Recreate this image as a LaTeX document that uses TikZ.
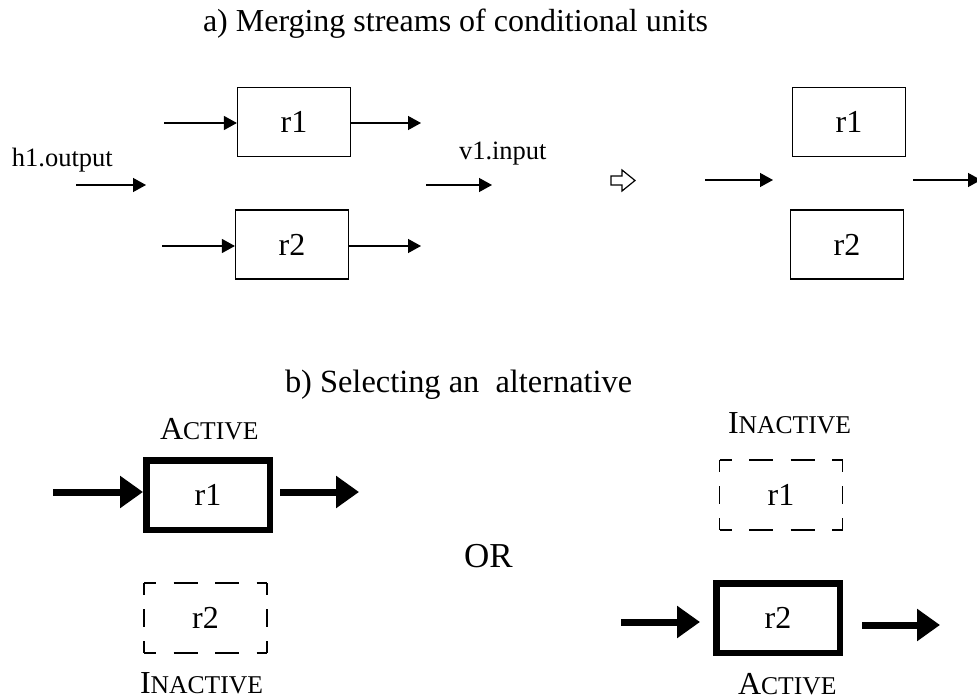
\documentclass[tikz,border=0pt]{standalone}
\usepackage{fontspec}
\setmainfont{Liberation Serif}
\usetikzlibrary{arrows.meta}

% first letter full size, rest as (fake) small capitals
\newcommand\scword[2]{{\fontsize{32}{38}\selectfont #1\fontsize{25.6}{30}\selectfont #2}}

\begin{document}
\begin{tikzpicture}[x=1pt,y=-1pt,
  boxfont/.style={font=\fontsize{32}{38}\selectfont},
  thinbox/.style={draw, line width=1.2pt, minimum width=113pt, minimum height=69pt, inner sep=0pt, boxfont},
  boldbox/.style={draw, line width=6.5pt, minimum width=123.5pt, minimum height=69.5pt, inner sep=0pt, boxfont},
  ghostbox/.style={inner sep=0pt, outer sep=0pt, minimum width=123pt, minimum height=70pt, boxfont},
  hdash/.style={line width=1.1pt, dash pattern=on 24pt off 17.5pt, dash phase=12pt},
  vdash/.style={line width=1.1pt, dash pattern=on 18pt off 14pt, dash phase=6pt},
  thinarrow/.style={line width=1.3pt, -{Triangle[length=13pt,width=14pt]}},
  boldarrow/.style={line width=7pt, -{Triangle[length=23pt,width=31pt]}},
  lbl/.style={anchor=base west, inner sep=0pt, outer sep=0pt}
]
\path[use as bounding box, fill=white] (0,0) rectangle (977,700);

% ---------------- a) merging ----------------
\node[lbl, font=\fontsize{32}{38}\selectfont] (titlea) at (203,32) {a) Merging streams of conditional units};

\node[thinbox] (ar1) at (294,122) {r1};
\node[thinbox] (ar2) at (292,244.5) {r2};

\coordinate (ar1in) at (164,123);
\coordinate (ar1out) at (421,123);
\coordinate (ar2in) at (162,246);
\coordinate (ar2out) at (421,246);
\draw[thinarrow] (ar1in) -- (ar1in -| ar1.west);
\draw[thinarrow] (ar1out -| ar1.east) -- (ar1out);
\draw[thinarrow] (ar2in) -- (ar2in -| ar2.west);
\draw[thinarrow] (ar2out -| ar2.east) -- (ar2out);

\node[lbl, font=\fontsize{26.5}{30}\selectfont] (h1lbl) at (12,167) {h1.output};
\coordinate (h1a) at (76,185);
\coordinate (h1b) at (146,185);
\draw[thinarrow] (h1a) -- (h1b);

\node[lbl, font=\fontsize{26.5}{30}\selectfont] (v1lbl) at (459,160) {v1.input};
\coordinate (v1a) at (426,185);
\coordinate (v1b) at (492,185);
\draw[thinarrow] (v1a) -- (v1b);

% hollow "becomes" arrow
\draw[line width=1.2pt, fill=white, line join=miter]
  (611,176) -- (622,176) -- (622,170) -- (635,180.5) -- (622,191) -- (622,185) -- (611,185) -- cycle;

\node[thinbox] (mr1) at (849,122) {r1};
\node[thinbox] (mr2) at (847,244.5) {r2};
\coordinate (ma) at (705,180);
\coordinate (mb) at (773,180);
\coordinate (mc) at (913,180);
\coordinate (md) at (981,180);
\draw[thinarrow] (ma) -- (mb);
\draw[thinarrow] (mc) -- (md);

% ---------------- b) selecting ----------------
\node[lbl, font=\fontsize{32.4}{38}\selectfont] (titleb) at (285,392) {b) Selecting an\ \ alternative};

% left: r1 active, r2 inactive
\node[lbl] (lact) at (160,439) {\scword{A}{CTIVE}};
\node[boldbox] (br1) at (208,495) {r1};
\coordinate (br1in) at (53,492);
\coordinate (br1out) at (359,492);
\draw[boldarrow] (br1in) -- (br1in -| br1.west);
\draw[boldarrow, shorten <=7pt] (br1out -| br1.east) -- (br1out);

\node[ghostbox] (br2) at (205.5,618) {r2};
\draw[hdash] (br2.north west) -- (br2.north east);
\draw[hdash] (br2.south west) -- (br2.south east);
\draw[vdash] (br2.north west) -- (br2.south west);
\draw[vdash] (br2.north east) -- (br2.south east);
\node[lbl] (linact) at (140,693) {\scword{I}{NACTIVE}};

\node[lbl, font=\fontsize{35}{40}\selectfont] (orlbl) at (464,567) {OR};

% right: r1 inactive, r2 active
\node[lbl] (rinact) at (728,433) {\scword{I}{NACTIVE}};
\node[ghostbox] (cr1) at (781,495) {r1};
\draw[hdash] (cr1.north west) -- (cr1.north east);
\draw[hdash] (cr1.south west) -- (cr1.south east);
\draw[vdash] (cr1.north west) -- (cr1.south west);
\draw[vdash] (cr1.north east) -- (cr1.south east);

\node[boldbox] (cr2) at (778,618) {r2};
\coordinate (cr2in) at (621,622);
\coordinate (cr2out) at (940,625);
\draw[boldarrow, shorten >=13pt] (cr2in) -- (cr2in -| cr2.west);
\draw[boldarrow, shorten <=19pt] (cr2out -| cr2.east) -- (cr2out);
\node[lbl] (ract) at (738,694) {\scword{A}{CTIVE}};
\end{tikzpicture}
\end{document}
